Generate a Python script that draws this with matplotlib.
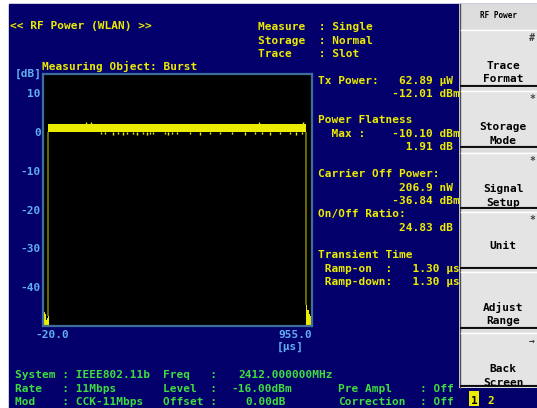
import matplotlib.pyplot as plt
from matplotlib.patches import Rectangle

# ---- trace data (time in us, level in dB) ----
t_span = [-20.0, 955.0]
db_span = [-50.0, 15.0]
db_ticks = [10, 0, -10, -20, -30, -40]

burst_on = -1.0
burst_off = 935.0
level_lo = 0.15
level_hi = 2.1

dip_t = [190, 205, 234, 252, 270, 284, 306, 321, 342, 357, 368, 379, 422, 433,
         448, 466, 513, 549, 585, 622, 665, 712, 748, 774, 803, 839, 875, 897, 919]
dip_db = [-0.6, -0.4, -0.8, -0.5, -0.7, -0.4, -0.6, -0.8, -0.5, -0.7, -0.4, -0.6,
          -0.5, -0.8, -0.4, -0.6, -0.5, -0.7, -0.4, -0.6, -0.5, -0.7, -0.4, -0.6,
          -0.8, -0.5, -0.6, -0.7, -0.5]
peak_t = [135, 155, 762, 921]
peak_db = [2.6, 2.5, 2.5, 2.6]

pre_t = [-20, -18, -16, -14, -12, -10, -8, -6, -4, -2, 0]
pre_db = [-46.0, -44.5, -47.5, -46.5, -48.0, -47.0, -48.5, -47.5, -48.0, -47.0, -47.5]
post_t = [935, 937, 939, 941, 943, 945, 947, 949, 951, 953, 955]
post_db = [-44.5, -45.0, -46.0, -46.5, -46.0, -47.0, -46.5, -47.5, -47.0, -48.0, -48.0]

# ---- screen text ----
header = [(10, 29, '<< RF Power (WLAN) >>'),
          (258, 30, 'Measure  : Single'),
          (258, 43.5, 'Storage  : Normal'),
          (258, 56.7, 'Trace    : Slot'),
          (42, 70, 'Measuring Object: Burst')]

results = [(84, 'Tx Power:   62.89 \u00b5W'),
           (97, '           -12.01 dBm'),
           (123, 'Power Flatness'),
           (137, '  Max :    -10.10 dBm'),
           (150, '             1.91 dB'),
           (176.7, 'Carrier Off Power:'),
           (190.7, '            206.9 nW'),
           (204, '           -36.84 dBm'),
           (217, 'On/Off Ratio:'),
           (230.7, '            24.83 dB'),
           (257.7, 'Transient Time'),
           (271.7, ' Ramp-on  :   1.30 \u00b5s'),
           (285, ' Ramp-down:   1.30 \u00b5s')]

setup = [(15, 378.5, 'System : IEEE802.11b'), (163, 378.5, 'Freq   :'), (238, 378.5, '2412.000000MHz'),
         (15, 391.7, 'Rate   : 11Mbps'), (163, 391.7, 'Level  :'), (231, 391.7, '-16.00dBm'),
         (15, 405, 'Mod    : CCK-11Mbps'), (163, 405, 'Offset :'), (245, 405, '0.00dB'),
         (338, 391.7, 'Pre Ampl'), (420, 391.7, ': Off'),
         (338, 405, 'Correction'), (420, 405, ': Off')]

key_rows = [(29, 86), (90, 147), (152, 208), (211, 268), (271, 328), (332, 386)]
key_labels = ['Trace\nFormat', 'Storage\nMode', 'Signal\nSetup', 'Unit', 'Adjust\nRange', 'Back\nScreen']
key_marks = ['#', '*', '*', '*', '', '\u2192']

W, H = 537, 408
NAVY = '#03006c'
YEL = '#ecec00'
OLIVE = '#7c7c00'
GREEN = '#3ede3e'
LBLUE = '#5eaef0'
FRAME = '#3f6e98'

plt.rcParams['font.family'] = 'DejaVu Sans Mono'
plt.rcParams['font.weight'] = 'bold'
plt.rcParams['font.size'] = 8

fig = plt.figure(figsize=(W / 100, H / 100), dpi=100)
fig.patch.set_facecolor('white')

# full screen in pixel units
bg = fig.add_axes([0, 0, 1, 1])
bg.set_xlim(0, W)
bg.set_ylim(H, 0)
bg.axis('off')
bg.add_patch(Rectangle((9, 4), W - 9, H - 4, color=NAVY, zorder=0))

for x, y, s in header:
    bg.text(x, y, s, color=YEL, va='baseline', zorder=3)
for y, s in results:
    bg.text(318, y, s, color=YEL, va='baseline', zorder=3)
for x, y, s in setup:
    bg.text(x, y, s, color=GREEN, va='baseline', zorder=3)
bg.text(42, 77, '[dB]', color=LBLUE, ha='right', va='baseline', zorder=3)

# soft key panel
px0 = 459
bg.add_patch(Rectangle((px0, 4), W - px0, 384, fc='#dddddd', ec='none', zorder=5))
bg.plot([px0 + 0.5, px0 + 0.5], [4, 388], color='#505050', lw=1, zorder=7)
bg.text(498, 17.5, 'RF Power', color='black', ha='center', va='baseline',
        fontsize=5.5, zorder=8)
for (top, bot), label, mark in zip(key_rows, key_labels, key_marks):
    bg.add_patch(Rectangle((px0 + 2, top), W - px0 - 2, bot - top,
                           fc='#e4e4e4', ec='none', zorder=6))
    bg.plot([px0 + 2, W], [top + 0.5, top + 0.5], color='white', lw=1, zorder=7)
    bg.plot([px0 + 2, W], [bot - 1.5, bot - 1.5], color='#9a9a9a', lw=1, zorder=7)
    bg.plot([px0 + 2, W], [bot, bot], color='black', lw=1.3, zorder=7)
    lines = label.split('\n')
    y0 = top + 40 if len(lines) == 2 else top + 38
    for i, s in enumerate(lines):
        bg.text(503, y0 + 13.5 * i, s, color='black', ha='center', va='baseline', zorder=8)
    if mark:
        bg.text(532, top + 12, mark, color='#404040', ha='center', va='baseline',
                fontsize=7, zorder=8)

bg.add_patch(Rectangle((px0, 388), W - px0, H - 388, fc=NAVY, ec='none', zorder=6))
bg.add_patch(Rectangle((469, 391), 10, 15, fc=YEL, ec='none', zorder=7))
bg.text(474, 403.5, '1', color='black', ha='center', va='baseline', zorder=8)
bg.text(487, 403.5, '2', color=YEL, va='baseline', zorder=8)

# trace window
ax = fig.add_axes([43 / W, 1 - 326 / H, 269 / W, 252 / H])
ax.set_facecolor('black')
ax.set_xlim(t_span)
ax.set_ylim(db_span)
for sp in ax.spines.values():
    sp.set_color(FRAME)
    sp.set_linewidth(1.6)
ax.set_xticks([])
ax.set_yticks(db_ticks)
ax.set_yticklabels([str(v) for v in db_ticks])
ax.tick_params(axis='y', length=0, pad=1.5, labelcolor=LBLUE)

ax.fill_between(pre_t, db_span[0], pre_db, step='mid', color=YEL, lw=0)
ax.fill_between(post_t, db_span[0], post_db, step='mid', color=YEL, lw=0)
ax.vlines([burst_on, burst_off], [pre_db[-1], post_db[0]], level_lo, color=OLIVE, lw=1.2)
ax.fill_between([burst_on, burst_off], level_lo, level_hi, color=YEL, lw=0)
ax.vlines(dip_t, dip_db, level_lo, color=YEL, lw=1)
ax.vlines(peak_t, level_hi, peak_db, color=YEL, lw=1)

ax.annotate('-20.0', xy=(t_span[0], db_span[0]), xytext=(-8, -12),
            textcoords='offset pixels', color=LBLUE, ha='left', va='baseline',
            annotation_clip=False)
ax.annotate('955.0', xy=(t_span[1], db_span[0]), xytext=(0, -12),
            textcoords='offset pixels', color=LBLUE, ha='right', va='baseline',
            annotation_clip=False)
ax.annotate('[\u00b5s]', xy=(t_span[1], db_span[0]), xytext=(-8, -24),
            textcoords='offset pixels', color=LBLUE, ha='right', va='baseline',
            annotation_clip=False)

fig.savefig('out.png', dpi=100, facecolor=fig.get_facecolor())
